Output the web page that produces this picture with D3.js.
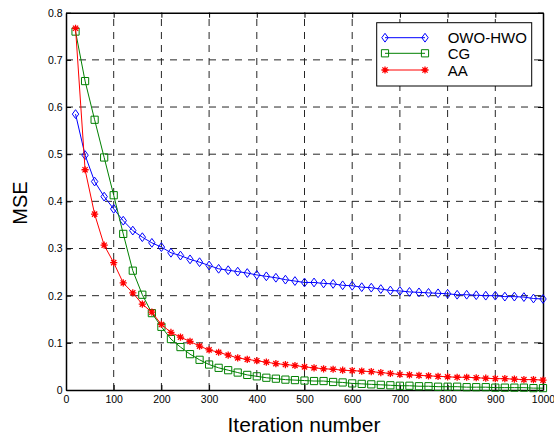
<!DOCTYPE html>
<html>
<head>
<meta charset="utf-8">
<script src="https://cdn.jsdelivr.net/npm/d3@7"></script>
<style>
  body { margin: 0; background: #fff; }
  svg { font-family: "Liberation Sans", Arial, sans-serif; }
</style>
</head>
<body>
<svg id="chart" width="554" height="434"></svg>
<script>
// iteration numbers where the curves are sampled
const iterations = [20, 40, 60, 80, 100, 120, 140, 160, 180, 200,
    220, 240, 260, 280, 300, 320, 340, 360, 380, 400,
    420, 440, 460, 480, 500, 520, 540, 560, 580, 600,
    620, 640, 660, 680, 700, 720, 740, 760, 780, 800,
    820, 840, 860, 880, 900, 920, 940, 960, 980, 1000];

const owoHwo = [0.585, 0.498, 0.442, 0.410, 0.384, 0.359, 0.338, 0.324, 0.312, 0.303,
    0.291, 0.285, 0.277, 0.271, 0.264, 0.257, 0.254, 0.251, 0.248, 0.244,
    0.241, 0.238, 0.234, 0.231, 0.228, 0.228, 0.226, 0.225, 0.222, 0.221,
    0.218, 0.217, 0.214, 0.211, 0.210, 0.208, 0.207, 0.206, 0.205, 0.204,
    0.202, 0.202, 0.201, 0.200, 0.200, 0.198, 0.198, 0.197, 0.194, 0.193];

const cg = [0.760, 0.655, 0.573, 0.493, 0.413, 0.331, 0.253, 0.202, 0.163, 0.134,
    0.108, 0.091, 0.076, 0.064, 0.054, 0.047, 0.042, 0.037, 0.032, 0.029,
    0.026, 0.024, 0.022, 0.021, 0.020, 0.019, 0.019, 0.017, 0.016, 0.014,
    0.013, 0.012, 0.011, 0.010, 0.009, 0.009, 0.008, 0.008, 0.007, 0.007,
    0.007, 0.006, 0.006, 0.006, 0.005, 0.005, 0.005, 0.005, 0.004, 0.004];

const aa = [0.767, 0.467, 0.373, 0.307, 0.270, 0.227, 0.206, 0.182, 0.165, 0.139,
    0.122, 0.112, 0.103, 0.093, 0.085, 0.080, 0.074, 0.068, 0.065, 0.062,
    0.059, 0.056, 0.054, 0.052, 0.049, 0.047, 0.045, 0.044, 0.042, 0.041,
    0.040, 0.039, 0.037, 0.035, 0.033, 0.032, 0.031, 0.030, 0.029, 0.028,
    0.027, 0.027, 0.026, 0.025, 0.024, 0.024, 0.023, 0.022, 0.022, 0.021];

const xTicks = [0, 100, 200, 300, 400, 500, 600, 700, 800, 900, 1000];
const yTicks = [0, 0.1, 0.2, 0.3, 0.4, 0.5, 0.6, 0.7, 0.8];

const seriesNames = ["OWO-HWO", "CG", "AA"];
const seriesColors = ["#0000ff", "#008000", "#ff0000"];
const seriesMarkers = ["diamond", "square", "star"];
const seriesValues = [owoHwo, cg, aa];

const plotLeft = 66, plotRight = 543, plotTop = 12.7, plotBottom = 390;

let svg = d3.select("#chart");

let x = d3.scaleLinear().domain([0, 1000]).range([plotLeft, plotRight]);
let y = d3.scaleLinear().domain([0, 0.8]).range([plotBottom, plotTop]);

// dashed grid
let grid = svg.append("g").attr("stroke", "#000").attr("stroke-width", 1)
    .attr("stroke-dasharray", "7,6").attr("opacity", 0.85);
grid.selectAll(".vgrid").data(xTicks.slice(1, -1)).enter().append("line")
    .attr("x1", d => x(d)).attr("x2", d => x(d))
    .attr("y1", plotBottom).attr("y2", plotTop);
grid.selectAll(".hgrid").data(yTicks.slice(1, -1)).enter().append("line")
    .attr("y1", d => y(d)).attr("y2", d => y(d))
    .attr("x1", plotLeft).attr("x2", plotRight);

// axes with inward ticks (box style)
let xAxis = d3.axisBottom(x).tickValues(xTicks).tickSizeInner(-5).tickSizeOuter(0).tickPadding(6)
    .tickFormat(d3.format("d"));
let yAxis = d3.axisLeft(y).tickValues(yTicks).tickSizeInner(-5).tickSizeOuter(0).tickPadding(3.5)
    .tickFormat(d => d === 0 ? "0" : d3.format(".1f")(d));

function styleAxis(g) {
    g.select(".domain").attr("stroke-width", 1.5);
    g.selectAll(".tick line").attr("stroke-width", 1);
    g.selectAll("text").attr("font-size", 10.5).attr("fill", "#000")
        .attr("font-family", "Liberation Sans, Arial, sans-serif");
}

svg.append("g").attr("transform", `translate(0,${plotBottom})`).call(xAxis).call(styleAxis);
svg.append("g").attr("transform", `translate(${plotLeft},0)`).call(yAxis).call(styleAxis);
svg.append("g").attr("transform", `translate(0,${plotTop})`)
    .call(d3.axisTop(x).tickValues(xTicks).tickSizeInner(-5).tickSizeOuter(0).tickFormat(""))
    .call(styleAxis);
svg.append("g").attr("transform", `translate(${plotRight},0)`)
    .call(d3.axisRight(y).tickValues(yTicks).tickSizeInner(-5).tickSizeOuter(0).tickFormat(""))
    .call(styleAxis);

// axis labels
svg.append("text").attr("x", 304).attr("y", 432).attr("text-anchor", "middle")
    .attr("font-size", 21).text("Iteration number");
svg.append("text").attr("transform", "translate(27,203) rotate(-90)")
    .attr("text-anchor", "middle").attr("font-size", 20).text("MSE");

// marker drawing
function markerPath(kind) {
    if (kind === "diamond") return "M0,-4.4L3.2,0L0,4.4L-3.2,0Z";
    if (kind === "square") return "M-3.6,-3.6H3.6V3.6H-3.6Z";
    // asterisk
    let r = 3.6, d = 2.6;
    return `M${-r},0H${r}M0,${-r}V${r}M${-d},${-d}L${d},${d}M${-d},${d}L${d},${-d}`;
}

let line = d3.line().x(d => x(d[0])).y(d => y(d[1]));

let plot = svg.append("g");
seriesValues.forEach((vals, i) => {
    let pts = iterations.map((it, j) => [it, vals[j]]);
    let g = plot.append("g");
    g.append("path").datum(pts).attr("d", line)
        .attr("fill", "none").attr("stroke", seriesColors[i]).attr("stroke-width", 1);
    g.selectAll("path.m").data(pts).enter().append("path").attr("class", "m")
        .attr("transform", d => `translate(${x(d[0])},${y(d[1])})`)
        .attr("d", markerPath(seriesMarkers[i]))
        .attr("fill", "none").attr("stroke", seriesColors[i])
        .attr("stroke-width", seriesMarkers[i] === "star" ? 1.3 : 1);
});

// legend
let legend = svg.append("g");
legend.append("rect").attr("x", 376.7).attr("y", 22.7).attr("width", 155).attr("height", 63.3)
    .attr("fill", "#fff").attr("stroke", "#000").attr("stroke-width", 1);
let rowY = [37.7, 53.3, 70];
seriesNames.forEach((name, i) => {
    let g = legend.append("g").attr("transform", `translate(0,${rowY[i]})`);
    g.append("line").attr("x1", 385).attr("x2", 425)
        .attr("stroke", seriesColors[i]).attr("stroke-width", 1);
    [385, 425].forEach(px => {
        g.append("path").attr("transform", `translate(${px},0)`)
            .attr("d", markerPath(seriesMarkers[i]))
            .attr("fill", "none").attr("stroke", seriesColors[i])
            .attr("stroke-width", seriesMarkers[i] === "star" ? 1.3 : 1);
    });
    g.append("text").attr("x", 447.7).attr("y", 5.5).attr("font-size", 15).text(name);
});
</script>
</body>
</html>
